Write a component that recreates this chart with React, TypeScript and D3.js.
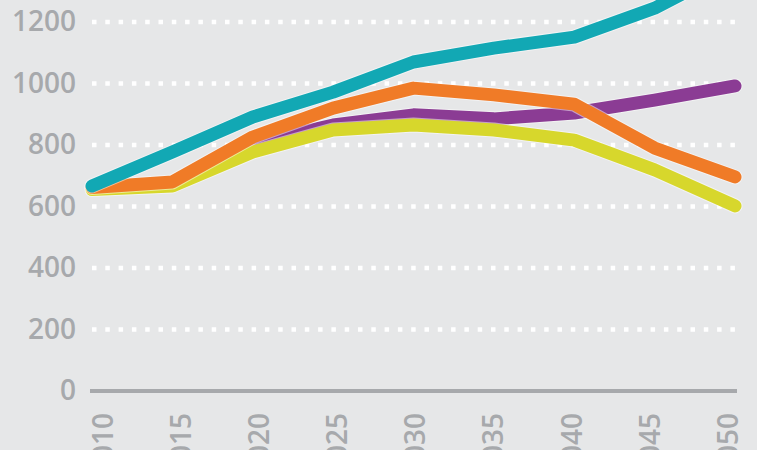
import { useEffect, useRef } from "react";
import * as d3 from "d3";

const years = [2010, 2015, 2020, 2025, 2030, 2035, 2040, 2045, 2050];
const yTicks = [0, 200, 400, 600, 800, 1000, 1200];

const purpleSeries = [660, 672, 805, 865, 898, 885, 904, 946, 992];
const yellowSeries = [655, 667, 777, 849, 865, 849, 816, 719, 602];
const orangeSeries = [662, 680, 826, 920, 985, 963, 933, 790, 696];
const tealSeries = [667, 777, 891, 972, 1070, 1115, 1151, 1245, 1380];

const seriesList = [
  { name: "purple", color: "#8b3c94", values: purpleSeries },
  { name: "yellow", color: "#d7d72c", values: yellowSeries },
  { name: "orange", color: "#f07b27", values: orangeSeries },
  { name: "teal", color: "#12a8b4", values: tealSeries },
];

const W = 757;
const H = 450;

export default function App() {
  const ref = useRef<SVGSVGElement | null>(null);

  useEffect(() => {
    if (!ref.current) return;
    const svg = d3.select(ref.current);
    svg.selectAll("*").remove();

    const x = d3.scaleLinear().domain([2010, 2050]).range([92, 735]);
    const y = d3.scaleLinear().domain([0, 1200]).range([391, 22]);
    // labels sit on their own slightly narrower spacing
    const xLabel = d3.scalePoint<number>().domain(years).range([103, 728]);

    svg.append("rect").attr("width", W).attr("height", H).attr("fill", "#e6e7e8");

    const grey = "#a7a9ac";
    const font = "'Open Sans', sans-serif";

    // dotted grid
    svg
      .append("g")
      .selectAll("line")
      .data(yTicks.filter((d) => d > 0))
      .join("line")
      .attr("x1", 92)
      .attr("x2", 738)
      .attr("y1", (d) => y(d))
      .attr("y2", (d) => y(d))
      .attr("stroke", "#fff")
      .attr("stroke-width", 4.5)
      .attr("stroke-dasharray", "4.5 8.8");

    // baseline
    svg
      .append("line")
      .attr("x1", 90)
      .attr("x2", 737)
      .attr("y1", y(0))
      .attr("y2", y(0))
      .attr("stroke", grey)
      .attr("stroke-width", 4);

    svg
      .append("g")
      .selectAll("text")
      .data(yTicks)
      .join("text")
      .attr("x", 76)
      .attr("y", (d) => y(d))
      .attr("dy", "0.33em")
      .attr("text-anchor", "end")
      .attr("fill", grey)
      .style("font-family", font)
      .style("font-weight", 600)
      .style("font-size", "28px")
      .text((d) => d);

    svg
      .append("g")
      .selectAll("text")
      .data(years)
      .join("text")
      .attr("transform", (d) => `translate(${xLabel(d)},413) rotate(-90)`)
      .attr("dy", "0.35em")
      .attr("text-anchor", "end")
      .attr("fill", grey)
      .style("font-family", font)
      .style("font-weight", 600)
      .style("font-size", "28px")
      .text((d) => d);

    const line = d3
      .line<number>()
      .x((_d, i) => x(years[i]))
      .y((d) => y(d));

    const lines = svg.append("g");
    seriesList.forEach((s) => {
      lines
        .append("path")
        .attr("d", line(s.values))
        .attr("fill", "none")
        .attr("stroke", "#fff")
        .attr("stroke-opacity", 0.5)
        .attr("stroke-width", 15)
        .attr("stroke-linejoin", "round")
        .attr("stroke-linecap", "round");
      lines
        .append("path")
        .attr("d", line(s.values))
        .attr("fill", "none")
        .attr("stroke", s.color)
        .attr("stroke-width", 13)
        .attr("stroke-linejoin", "round")
        .attr("stroke-linecap", "round");
    });
  }, []);

  return (
    <svg
      ref={ref}
      width={W}
      height={H}
      style={{ position: "absolute", top: 0, left: 0, display: "block" }}
    />
  );
}
